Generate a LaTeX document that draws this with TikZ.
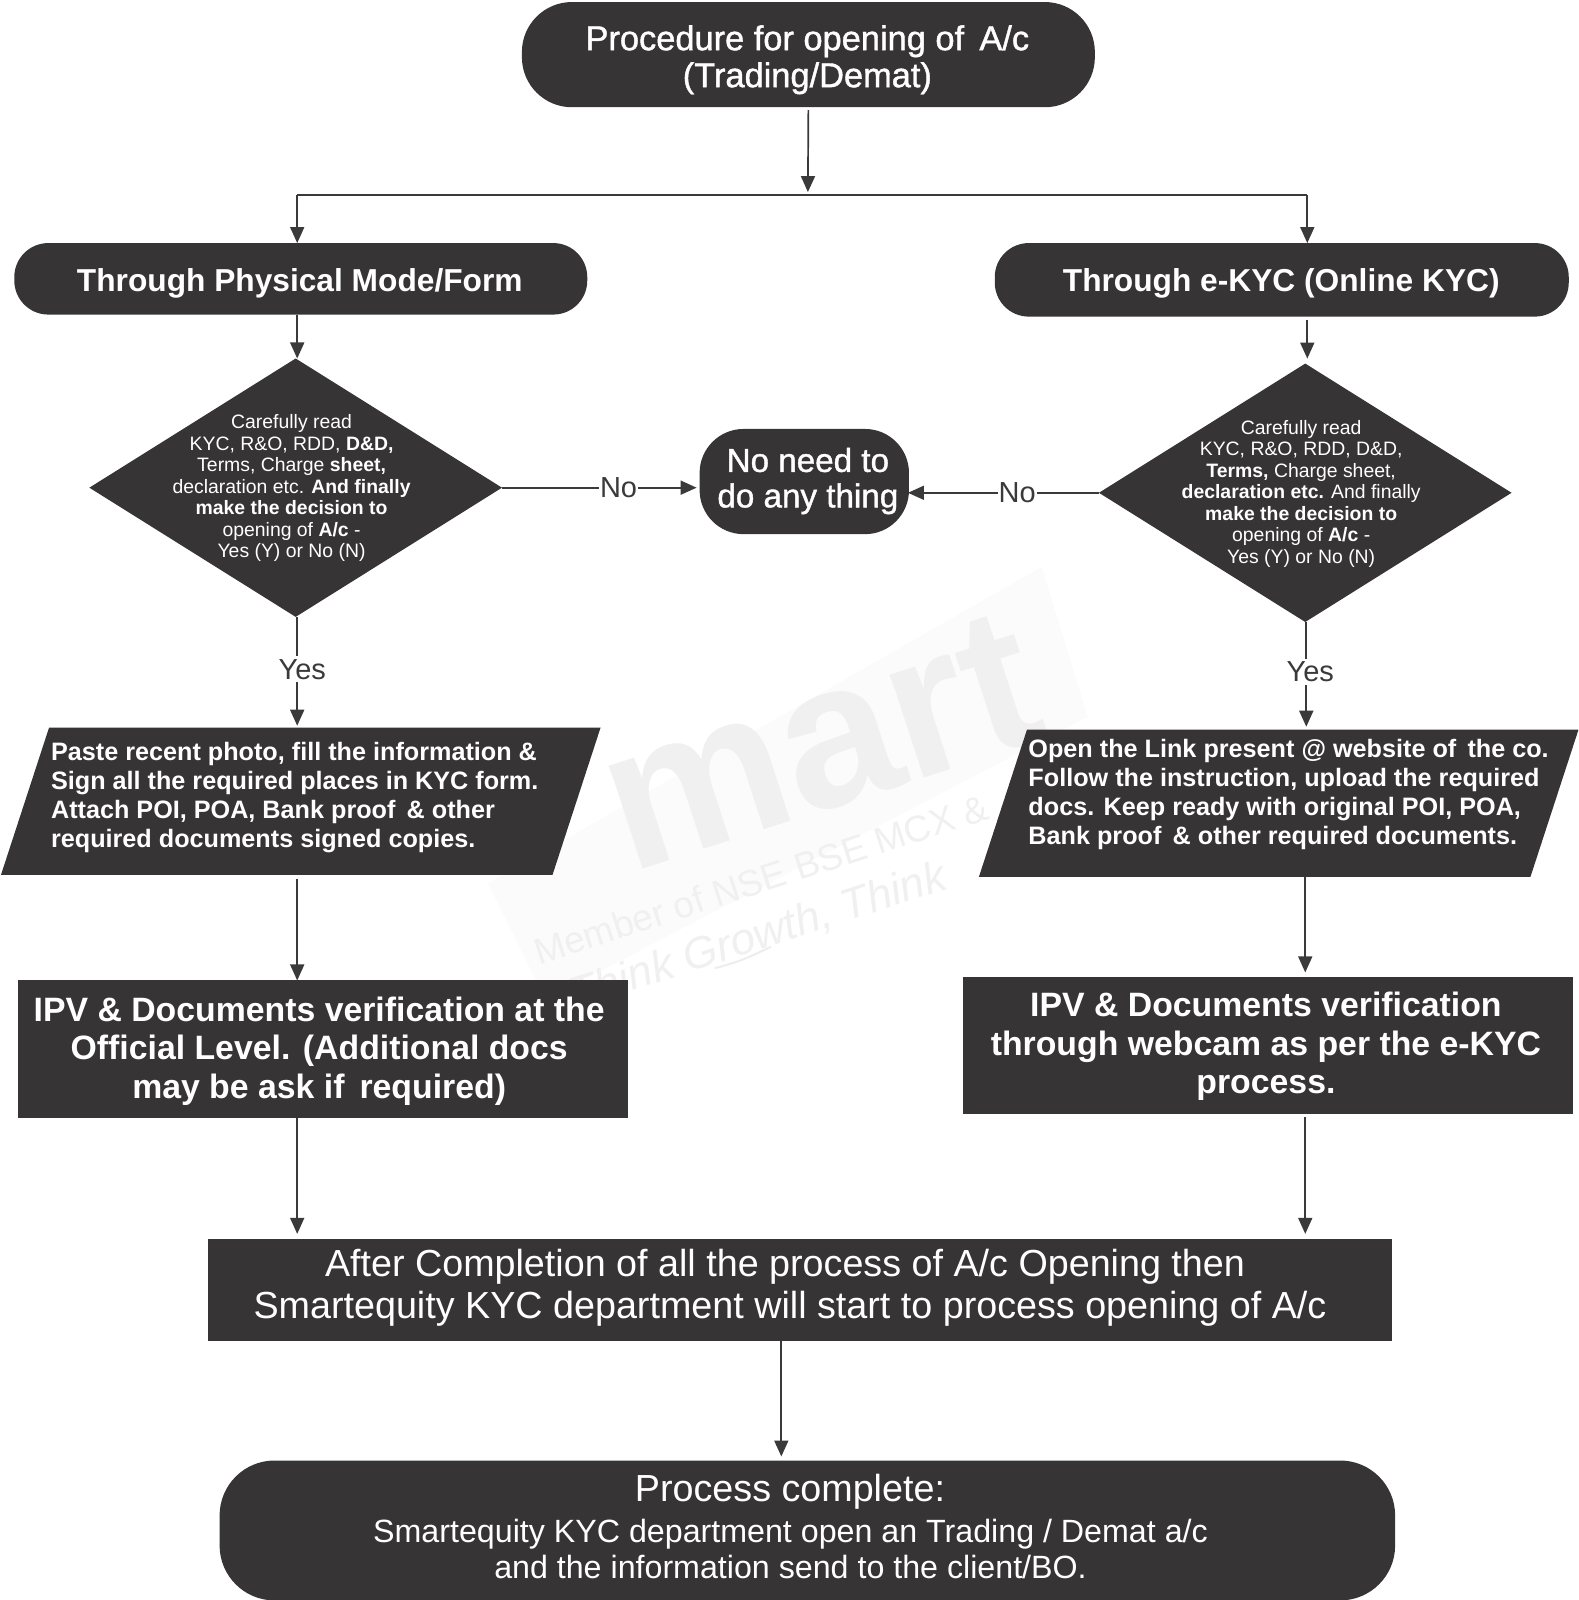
\documentclass[tikz,border=0pt]{standalone}
\usepackage{fontspec}
\setmainfont{Liberation Sans}
\newfontfamily\semi[FakeBold=1.2]{Liberation Sans}
\usetikzlibrary{arrows.meta,shapes.geometric,calc}
\definecolor{box}{HTML}{363435}
\definecolor{lnk}{HTML}{3A3A3A}
\newcommand{\fs}[2]{\fontsize{#1}{#2}\selectfont}
\newcommand{\slantbox}[1]{\fill[box] ($(#1.north west)+(47,0)$) -- (#1.north east) -- ($(#1.south east)+(-47,0)$) -- (#1.south west) -- cycle;}
\tikzset{
  every node/.style={inner sep=0pt,outer sep=0pt},
  pill/.style={fill=box,rounded corners=#1},
  sq/.style={fill=box},
  dims/.style n args={2}{minimum width=#1*1.0213,minimum height=#2*1.0213},
  dia/.style={diamond,fill=box,dims={404}{253},shape aspect=1.6},
  para/.style={dims={587}{144}},
  wtext/.style={text=white,align=center},
  dtext/.style={wtext,font=\fs{19.4}{21.45}},
  ptext/.style={text=white,align=left,font=\bfseries\fs{25.2}{29.1}},
  big/.style={wtext,font=\bfseries\fs{33.8}{38.6}},
  arr/.style={draw=lnk,line width=1.7pt,-{Triangle[length=16pt,width=14pt]}},
  lin/.style={draw=lnk,line width=1.7pt},
  lab/.style={fill=white,text=lnk,inner xsep=1pt,inner ysep=3pt,font=\fs{29}{32}},
  wm/.style={text=black!6,rotate=18}
}
\begin{document}
\begin{tikzpicture}[x=1.0213pt,y=-1.0213pt]
\useasboundingbox (0,0) rectangle (1546,1566.6);
% watermark
\fill[black!1.5] (1020,555) -- (1065,702) -- (534,979) -- (478,865) -- cycle;
\node[wm,font=\bfseries\fs{205}{205}] (wma) at (803,727) {mart};
\node[wm,font=\fs{37}{40}] (wmb) at (745,861) {Member of NSE BSE MCX \&};
\node[wm,font=\itshape\fs{44}{46}] (wmc) at (742,917) {Think Growth, Think};
\draw[black!7,line width=2pt] (700,948) .. controls (725,941) .. (755,927);
% junctions
\coordinate (jL) at (291,191);
\coordinate (jC) at (791,191);
\coordinate (jR) at (1280,191);
\coordinate (xLp) at (291,0);
\coordinate (xRp) at (1279,0);
\coordinate (xRq) at (1278,0);
\coordinate (xM) at (765,0);
% nodes
\node[pill=50pt,dims={561}{103}] (top) at (791.5,53.5) {};
\node[wtext,font=\semi\fs{34.4}{37}] (topt) at (790.5,58.5) {Procedure for opening of \,A/c\\(Trading/Demat)};
\node[pill=34pt,dims={561}{70}] (phys) at (294.5,273) {};
\node[wtext,font=\bfseries\fs{31.7}{36}] (physt) at (293.5,277) {Through Physical Mode/Form};
\node[pill=34pt,dims={562}{72}] (ekyc) at (1255,274) {};
\node[wtext,font=\bfseries\fs{31.7}{36}] (ekyct) at (1254.5,277) {Through e-KYC (Online KYC)};
\node[dia] (dl) at (289.5,477.5) {};
\node[dia] (dr) at (1278,482.5) {};
\node[dtext] (dlt) at (285.5,478) {Carefully read\\KYC, R\&O, RDD, \textbf{D\&D,}\\Terms, Charge \textbf{sheet,}\\declaration etc. \textbf{And finally}\\\textbf{make the decision to}\\opening of \textbf{A/c} -\\Yes (Y) or No (N)};
\node[dtext] (drt) at (1274,483.5) {Carefully read\\KYC, R\&O, RDD, D\&D,\\\textbf{Terms,} Charge sheet,\\\textbf{declaration etc.} And finally\\\textbf{make the decision to}\\opening of \textbf{A/c} -\\Yes (Y) or No (N)};
\node[pill=44pt,dims={205}{103}] (no) at (787.5,471.5) {};
\node[wtext,font=\semi\fs{33.2}{35.5}] (not) at (791,471) {No need to\\do any thing};
\node[para] (pl) at (294.5,784.5) {};
\node[para] (pr) at (1252,786.5) {};
\slantbox{pl}
\slantbox{pr}
\node[ptext,anchor=west] (plt) at (50,781) {Paste recent photo, fill the information \&\\Sign all the required places in KYC form.\\Attach POI, POA, Bank proof \,\& other\\required documents signed copies.};
\node[ptext,anchor=west] (prt) at (1007,778) {Open the Link present @ website of \,the co.\\Follow the instruction, upload the required\\docs. Keep ready with original POI, POA,\\Bank proof \,\& other required documents.};
\node[sq,dims={597}{135}] (il) at (316,1027.5) {};
\node[big] (ilt) at (312.5,1029) {IPV \& Documents verification at the\\Official Level. (Additional docs\\may be ask if \,required)};
\node[sq,dims={597}{134}] (ir) at (1241.5,1024) {};
\node[big] (irt) at (1239.5,1024.5) {IPV \& Documents verification\\through webcam as per the e-KYC\\process.};
\node[sq,dims={1159}{100}] (af) at (783.5,1263) {};
\node[wtext,font=\fs{37.7}{42}] (aft) at (773.5,1261) {\hspace*{-10pt}After Completion of all the process of A/c Opening then\\Smartequity KYC department will start to process opening of A/c};
\node[pill=55pt,dims={1151}{137}] (pc) at (790.5,1498.5) {};
\node[text=white,font=\fs{37.7}{41}] (pch) at (773.5,1461) {Process complete:};
\node[wtext,font=\fs{32.2}{36}] (pct) at (774,1517) {Smartequity KYC department open an Trading / Demat a/c\\and the information send to the client/BO.};
% connectors
\draw[arr,shorten <=3pt,shorten >=3pt] (top.south) -- (jC);
\draw[lin] (jL) -- (jR);
\draw[arr] (jL) -- (phys.north -| jL);
\draw[arr] (jR) -- (ekyc.north -| jR);
\draw[arr] (phys.south -| jL) -- (dl.north -| jL);
\draw[arr,shorten <=3pt,shorten >=5pt] (ekyc.south -| jR) -- (dr.north -| jR);
\draw[arr,shorten >=2pt] (dl.south -| jL) -- node[lab,pos=0.49,xshift=5pt,yshift=2pt] (yl) {Yes} (pl.north -| jL);
\draw[arr,shorten >=3pt] (dr.south -| xRp) -- node[lab,pos=0.49,xshift=4pt,yshift=3pt] (yr) {Yes} (pr.north -| xRp);
\draw[arr,shorten >=3pt] (dl.east) -- node[lab,pos=0.59] (nl) {No} (dl.east -| no.west);
\draw[arr,shorten >=-1pt] (dr.west) -- node[lab,pos=0.43] (nr) {No} (dr.west -| no.east);
\draw[arr,shorten <=4pt] (pl.south -| xLp) -- (il.north -| xLp);
\draw[arr,shorten >=5pt] (pr.south -| xRq) -- (ir.north -| xRq);
\draw[arr,shorten >=5pt] (il.south -| jL) -- (af.north -| jL);
\draw[arr,shorten <=3pt,shorten >=5pt] (ir.south -| xRq) -- (af.north -| xRq);
\draw[arr,shorten >=4pt] (af.south -| xM) -- (pc.north -| xM);
\end{tikzpicture}
\end{document}
